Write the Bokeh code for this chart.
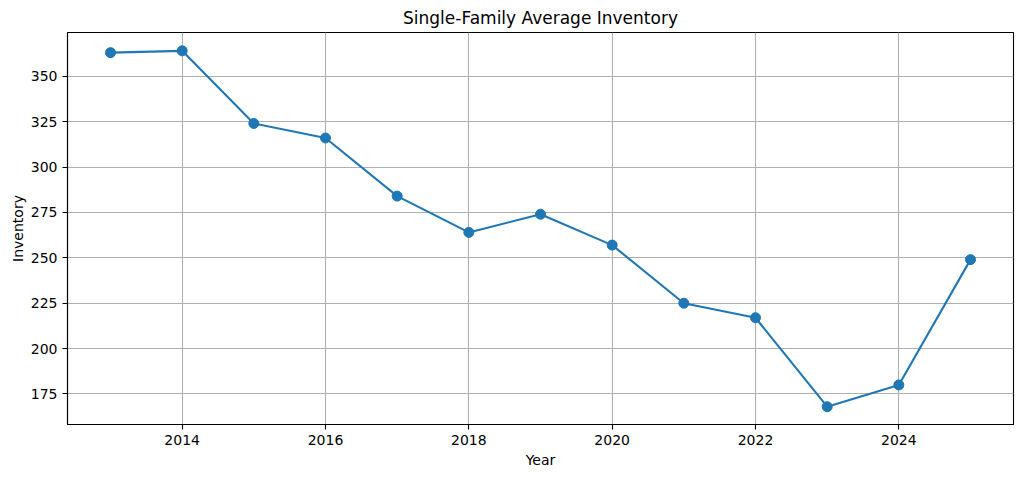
from bokeh.plotting import figure
from bokeh.models import FixedTicker, Range1d, Spacer
from bokeh.layouts import row
from bokeh.embed import file_html
from bokeh.resources import INLINE

years = [2013, 2014, 2015, 2016, 2017, 2018, 2019, 2020, 2021, 2022, 2023, 2024, 2025]
inventory = [363, 364, 324, 316, 284, 264, 274, 257, 225, 217, 168, 180, 249]
x_ticks = [2014, 2016, 2018, 2020, 2022, 2024]
y_ticks = [175, 200, 225, 250, 275, 300, 325, 350]

FONT = "DejaVu Sans"

p = figure(frame_width=946, frame_height=392, output_backend="svg", toolbar_location=None,
           title="Single-Family Average Inventory",
           x_range=Range1d(2012.4, 2025.6), y_range=Range1d(158.2, 374.1),
           min_border_left=50, min_border_right=3, min_border_top=23, min_border_bottom=47)

p.title.align = "center"
p.title.text_font = FONT
p.title.text_font_size = "17px"
p.title.text_font_style = "normal"
p.title.text_color = "black"

p.outline_line_color = "black"
p.outline_line_width = 1.1
p.background_fill_color = "white"
p.border_fill_color = "white"

for ax in (p.xaxis[0], p.yaxis[0]):
    ax.major_label_text_font = FONT
    ax.major_label_text_font_size = "14px"
    ax.major_label_text_color = "black"
    ax.axis_label_text_font = FONT
    ax.axis_label_text_font_size = "14px"
    ax.axis_label_text_font_style = "normal"
    ax.axis_label_text_color = "black"
    ax.minor_tick_line_color = None
    ax.major_tick_out = 5
    ax.major_tick_in = 0
    ax.major_tick_line_color = "black"
    ax.major_tick_line_width = 1.1
    ax.axis_line_color = "black"
    ax.axis_line_width = 1.1

p.xaxis.axis_label = "Year"
p.yaxis.axis_label = "Inventory"
p.xaxis.ticker = FixedTicker(ticks=x_ticks)
p.yaxis.ticker = FixedTicker(ticks=y_ticks)
p.xaxis.major_label_standoff = 5
p.yaxis.major_label_standoff = 5
p.xaxis.axis_label_standoff = 4
p.yaxis.axis_label_standoff = 2

p.xgrid.ticker = FixedTicker(ticks=x_ticks)
p.ygrid.ticker = FixedTicker(ticks=y_ticks)
for g in (p.xgrid[0], p.ygrid[0]):
    g.grid_line_color = "#b0b0b0"
    g.grid_line_width = 1.1

p.line(years, inventory, line_color="#1f77b4", line_width=2.1)
p.scatter(years, inventory, size=10, fill_color="#1f77b4", line_color="#1f77b4")

layout = row(Spacer(width=6, height=10), p)

open("out.html", "w").write(file_html(layout, INLINE))
